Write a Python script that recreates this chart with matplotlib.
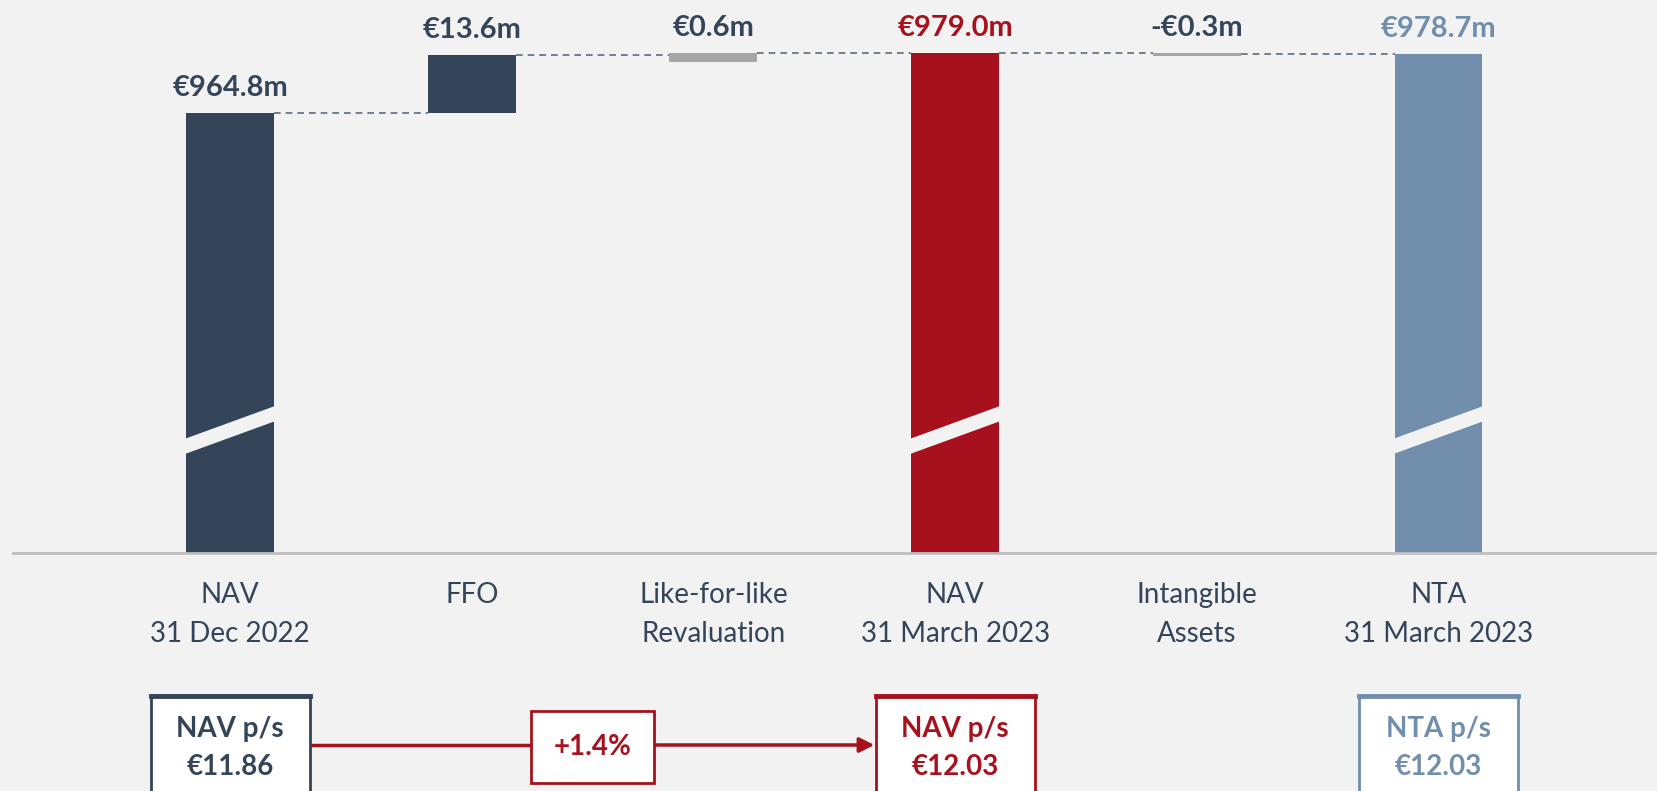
import matplotlib
matplotlib.use("Agg")
import matplotlib.pyplot as plt
from matplotlib.patches import Rectangle, Polygon, FancyArrowPatch
from matplotlib.transforms import blended_transform_factory

# data
categories = ["NAV\n31 Dec 2022", "FFO", "Like-for-like\nRevaluation",
              "NAV\n31 March 2023", "Intangible\nAssets", "NTA\n31 March 2023"]
values = [964.8, 13.6, 0.6, 979.0, -0.3, 978.7]
is_total = [True, False, False, True, False, True]
value_labels = ["€964.8m", "€13.6m", "€0.6m", "€979.0m", "-€0.3m", "€978.7m"]

ps_index = [0, 3, 5]
ps_titles = ["NAV p/s", "NAV p/s", "NTA p/s"]
ps_values = ["€11.86", "€12.03", "€12.03"]
ps_change = "+1.4%"

# style
NAVY = "#344559"
RED = "#A6111D"
STEEL = "#718EAD"
GREY = "#A6A6A6"
BG = "#F2F2F2"
bar_colors = [NAVY, NAVY, GREY, RED, GREY, STEEL]
label_colors = [NAVY, NAVY, NAVY, RED, NAVY, STEEL]
min_h = [0, 0, 2.2, 0, 0.75, 0]   # visual thickness for tiny steps
floor = 860.7                     # broken axis floor
bw = 0.364

plt.rcParams['font.family'] = ['Lato', 'DejaVu Sans']

fig = plt.figure(figsize=(16.57, 7.91), dpi=100, facecolor=BG)
ax = fig.add_axes([13/1657, 238/791, 1 - 13/1657, 553/791])
ax.set_facecolor(BG)
ax.set_xlim(-0.898, 5.904)
ax.set_ylim(floor, 991.5)
for s in ["top", "left", "right"]:
    ax.spines[s].set_visible(False)
ax.spines["bottom"].set_color("#BFBFBF")
ax.spines["bottom"].set_linewidth(2)
ax.set_xticks([])
ax.set_yticks([])

level = 0
levels = []
tops = []
for i, v in enumerate(values):
    if is_total[i]:
        lo, hi = floor, v
        level = v
    else:
        lo, hi = sorted([level, level + v])
        if hi - lo < min_h[i]:
            lo = hi - min_h[i]
        level = level + v
    ax.bar(i, hi - lo, bottom=lo, width=bw, color=bar_colors[i], zorder=2)
    levels.append(level)
    tops.append(hi)
    if is_total[i]:
        # break mark
        xl, xr = i - bw/2 - 0.01, i + bw/2 + 0.01
        ax.add_patch(Polygon([(xl, 884.0), (xr, 892.0), (xr, 895.6), (xl, 887.6)],
                             closed=True, facecolor=BG, edgecolor="none", zorder=3))

# connectors
for i in range(len(values) - 1):
    ax.plot([i + bw/2, i + 1 - bw/2], [levels[i], levels[i]], color="#5B6B7D",
            lw=1.2, ls=(0, (4, 3)), zorder=1)

# value labels
for i, t in enumerate(tops):
    ax.annotate(value_labels[i], (i, t), xytext=(0, 17), textcoords="offset pixels",
                ha="center", va="baseline", fontsize=21, fontweight="bold",
                color=label_colors[i])

trans = blended_transform_factory(ax.transData, fig.transFigure)

# category labels
line_y = [(791 - 595) / 791, (791 - 634) / 791]
for i, c in enumerate(categories):
    for j, part in enumerate(c.split("\n")):
        ax.text(i, line_y[j], part, transform=trans, ha="center", va="center",
                fontsize=20, color=NAVY)

# per-share boxes
box_colors = [NAVY, RED, STEEL]
for k, i in enumerate(ps_index):
    col = box_colors[k]
    ax.add_patch(Rectangle((i - 0.329, -0.05), 0.658, 0.1201 + 0.05, transform=trans,
                           facecolor="white", edgecolor=col, lw=2, clip_on=False, zorder=4))
    ax.plot([i - 0.329, i + 0.329], [0.1201, 0.1201], transform=trans, color=col,
            lw=3.5, clip_on=False, zorder=5)
    ax.text(i, (791 - 729) / 791, ps_titles[k], transform=trans, ha="center", va="center",
            fontsize=20, fontweight="bold", color=col, zorder=6)
    ax.text(i, (791 - 767) / 791, ps_values[k], transform=trans, ha="center", va="center",
            fontsize=20, fontweight="bold", color=col, zorder=6)

# change box and arrow
ax.add_patch(Rectangle((1.245, 0.0105), 0.509, 0.091, transform=trans,
                       facecolor="white", edgecolor=RED, lw=2, clip_on=False, zorder=4))
ax.text(1.5, (791 - 747) / 791, ps_change, transform=trans, ha="center", va="center",
        fontsize=20, fontweight="bold", color=RED, zorder=6)
ay = (791 - 745) / 791
ax.plot([0.331, 1.245], [ay, ay], transform=trans, color=RED, lw=2.5, clip_on=False, zorder=3)
ax.add_patch(FancyArrowPatch((1.754, ay), (2.666, ay), transform=trans, arrowstyle="-|>",
                             mutation_scale=22, color=RED, lw=2.5, clip_on=False, zorder=3,
                             shrinkA=0, shrinkB=0))

fig.savefig("out.png", dpi=100, facecolor=BG)
